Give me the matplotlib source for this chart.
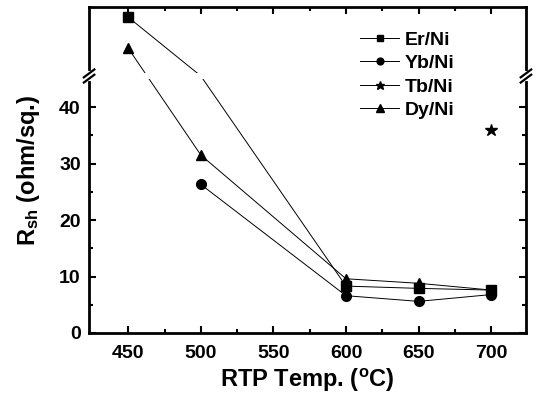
import matplotlib
matplotlib.use("Agg")
import matplotlib.pyplot as plt

plt.rcParams['font.family'] = ['Liberation Sans', 'DejaVu Sans']
plt.rcParams['font.weight'] = 'bold'
plt.rcParams['mathtext.fontset'] = 'custom'
plt.rcParams['mathtext.rm'] = 'Liberation Sans:bold'
plt.rcParams['mathtext.bf'] = 'Liberation Sans:bold'
plt.rcParams['mathtext.it'] = 'Liberation Sans:bold'

# Data (values above the axis break read on a linear continuation of the scale)
er_x = [450, 500, 600, 650, 700]
er_y = [55.9, 45.5, 8.3, 7.9, 7.6]
yb_x = [500, 600, 650, 700]
yb_y = [26.3, 6.6, 5.6, 6.8]
tb_x = [700]
tb_y = [36.0]
dy_x = [450, 500, 600, 650, 700]
dy_y = [50.4, 31.5, 9.6, 8.8, 7.6]

xticks = [450, 500, 550, 600, 650, 700]
yticks = [0, 10, 20, 30, 40]
y_break = 45.5

fig = plt.figure(figsize=(5.4, 3.95), dpi=100)
ax = fig.add_axes([0.165, 0.157, 0.809, 0.825])

lw = 0.7
ax.plot(er_x, er_y, color='black', lw=lw, marker='s', ms=6.5, markevery=[0, 2, 3, 4], label='Er/Ni', zorder=2)
ax.plot(yb_x, yb_y, color='black', lw=lw, marker='o', ms=7, label='Yb/Ni', zorder=2)
ax.plot(tb_x, tb_y, color='black', lw=lw, marker='*', ms=9, label='Tb/Ni', zorder=2)
ax.plot(dy_x, dy_y, color='black', lw=lw, marker='^', ms=7.5, label='Dy/Ni', zorder=2)

# white gap at the axis break
ax.axhspan(y_break - 0.6, y_break + 0.6, color='white', zorder=3, lw=0)

ax.set_xlim(423, 724)
ax.set_ylim(0, 57.7)
ax.set_xticks(xticks)
ax.set_xticks([475, 525, 575, 625, 675], minor=True)
ax.set_yticks(yticks)
ax.set_yticks([5, 15, 25, 35], minor=True)
ax.tick_params(which='both', direction='in', top=True, right=True, width=1.5,
               labelsize=14)
ax.tick_params(axis='x', which='both', pad=9)
ax.tick_params(axis='y', which='both', pad=6)
ax.tick_params(which='major', length=5)
ax.tick_params(which='minor', length=3)
for lab in ax.get_xticklabels() + ax.get_yticklabels():
    lab.set_fontweight('bold')
for s in ax.spines.values():
    s.set_linewidth(2)

# break marks on left and right spines
yb_ax = y_break / 57.7
for xs in (0, 1):
    ax.plot([xs, xs], [yb_ax - 0.008, yb_ax + 0.008], transform=ax.transAxes,
            color='white', lw=3, clip_on=False, zorder=4)
    for dy in (-0.008, 0.008):
        ax.plot([xs - 0.012, xs + 0.012], [yb_ax + dy - 0.012, yb_ax + dy + 0.012],
                transform=ax.transAxes, color='black', lw=1.6, clip_on=False, zorder=5)

ax.set_xlabel(r'RTP Temp. ($^\mathbf{o}$C)', fontsize=17, fontweight='bold', labelpad=3)
ax.set_ylabel(r'R$_\mathbf{sh}$ (ohm/sq.)', fontsize=17, fontweight='bold', labelpad=12)

leg = ax.legend(loc='upper right', bbox_to_anchor=(0.855, 0.95), frameon=False,
                fontsize=14, handlelength=2.0, handletextpad=0.3, labelspacing=0.3,
                borderaxespad=0, markerscale=0.7)
for t in leg.get_texts():
    t.set_fontweight('bold')

fig.savefig('out.png', dpi=100)
